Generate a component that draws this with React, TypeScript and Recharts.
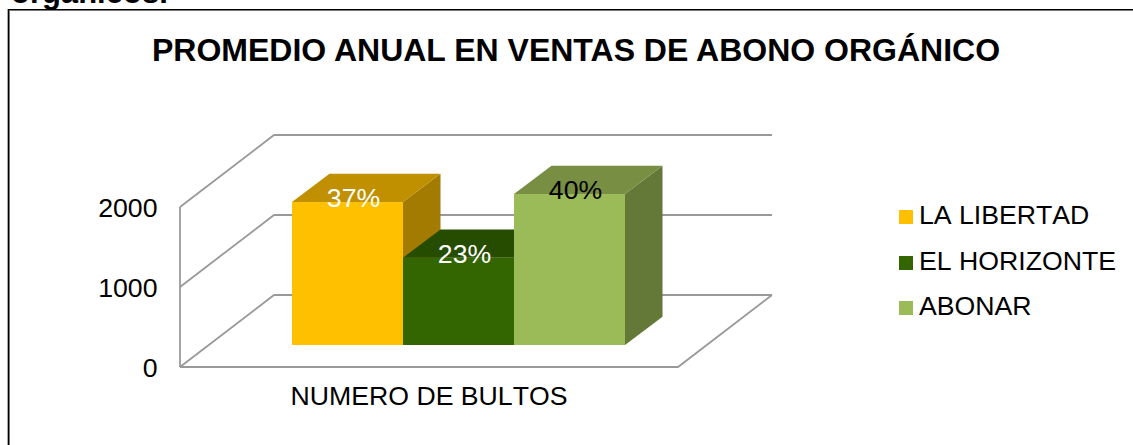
import { BarChart, Bar, XAxis, YAxis, CartesianGrid, LabelList, Legend } from "recharts";

const category = "NUMERO DE BULTOS";
const seriesNames = ["LA LIBERTAD", "EL HORIZONTE", "ABONAR"];
const seriesValues = [1787, 1091, 1887];
const seriesLabels = ["37%", "23%", "40%"];
const yTicks = [0, 1000, 2000];

const frontColors = ["#FFC000", "#336600", "#9BBB59"];
const topColors = ["#C09000", "#264C00", "#778E43"];
const sideColors = ["#A37B00", "#204000", "#647838"];
const labelColors = ["#FFFFFF", "#FFFFFF", "#000000"];

const FONT = "Arial, 'Liberation Sans', sans-serif";
const FONT_SIZE = 26.67;
const GRID = "#999999";

// depth of a bar box
const BAR_DX = 37.5;
const BAR_DY = 28.3;
// the bars stand inside the floor, the axis plane is in front of them
const AXIS_DX = 29.5;
const AXIS_DY = 22;
// depth of the walls, measured from the axis plane
const WALL_DX = 94;
const WALL_DY = 72;

const row: Record<string, string | number> = { name: category };
seriesNames.forEach((s, i) => {
  row[s] = seriesValues[i];
});
const chartData = [row];

function Box3D(props: any) {
  const { x, y, width, height, index } = props;
  const i: number = props.seriesIndex ?? index;
  const r = x + width;
  const b = y + height;
  return (
    <g>
      <polygon
        points={`${r},${y} ${r + BAR_DX},${y - BAR_DY} ${r + BAR_DX},${b - BAR_DY} ${r},${b}`}
        fill={sideColors[i]}
      />
      <polygon
        points={`${x},${y} ${x + BAR_DX},${y - BAR_DY} ${r + BAR_DX},${y - BAR_DY} ${r},${y}`}
        fill={topColors[i]}
      />
      <rect x={x} y={y} width={width} height={height} fill={frontColors[i]} />
    </g>
  );
}

function BarLabel(props: any) {
  const { x, y, width, value, seriesIndex } = props;
  return (
    <text
      x={x + width / 2 + 6}
      y={y - 4}
      textAnchor="middle"
      dominantBaseline="central"
      fontSize={FONT_SIZE}
      fontFamily={FONT}
      fill={labelColors[seriesIndex]}
    >
      {value}
    </text>
  );
}

// Walls and floor, one bent line per y tick
function WallLine(props: any) {
  const { x, y, width, height, y1 } = props;
  const left = x - AXIS_DX;
  const right = x + width - AXIS_DX;
  const yf = y1 + AXIS_DY;
  const isFloor = Math.abs(y1 - (y + height)) < 0.5;
  const line = `M${left},${yf} L${left + WALL_DX},${yf - WALL_DY} L${right + WALL_DX},${yf - WALL_DY}`;
  return (
    <g fill="none" stroke={GRID} strokeWidth={1.8}>
      <path d={line} />
      {isFloor && (
        <>
          <path d={`M${left},${yf} L${right},${yf} L${right + WALL_DX},${yf - WALL_DY}`} />
          <path d={`M${left},${y + AXIS_DY} L${left},${yf}`} />
        </>
      )}
    </g>
  );
}

function YTick(props: any) {
  const { x, y, payload } = props;
  return (
    <text
      x={x - 44}
      y={y + AXIS_DY + 1}
      textAnchor="end"
      dominantBaseline="central"
      fontSize={FONT_SIZE}
      fontFamily={FONT}
      fill="#000"
    >
      {payload.value}
    </text>
  );
}

function XTick(props: any) {
  const { x, y, payload } = props;
  return (
    <text
      x={x - AXIS_DX}
      y={y + 52}
      textAnchor="middle"
      fontSize={FONT_SIZE}
      fontFamily={FONT}
      fill="#000"
      style={{ fontKerning: "none" }}
    >
      {payload.value}
    </text>
  );
}

function LegendBox(props: any) {
  const items = [...(props.payload ?? [])].sort(
    (a: any, b: any) => seriesNames.indexOf(a.value) - seriesNames.indexOf(b.value)
  );
  return (
    <div style={{ position: "absolute", left: 899, top: 193, width: 230 }}>
      {items.map((item: any) => (
        <div
          key={item.value}
          style={{
            height: 45.5,
            lineHeight: "45.5px",
            fontFamily: FONT,
            fontSize: FONT_SIZE,
            fontKerning: "none",
            color: "#000",
            whiteSpace: "nowrap",
          }}
        >
          <span
            style={{
              display: "inline-block",
              width: 14,
              height: 14,
              marginRight: 6,
              background: item.color,
            }}
          />
          {item.value}
        </div>
      ))}
    </div>
  );
}

export default function App() {
  return (
    <div
      style={{
        position: "absolute",
        left: 0,
        top: 0,
        width: 1133,
        height: 445,
        overflow: "hidden",
        background: "#fff",
      }}
    >
      <div
        style={{
          position: "absolute",
          left: 11,
          top: -27,
          fontFamily: FONT,
          fontWeight: "bold",
          fontSize: 31,
          lineHeight: "40px",
          color: "#000",
        }}
      >
        orgánicos.
      </div>
      <div
        style={{
          position: "absolute",
          left: 8,
          top: 9,
          width: 1140,
          height: 460,
          border: "1px solid #000",
          boxShadow: "inset 1px 1px 0 #777, -1px 0 0 #aaa",
          boxSizing: "border-box",
        }}
      />
      <div
        style={{
          position: "absolute",
          left: 0,
          width: 1152,
          top: 30,
          textAlign: "center",
          fontFamily: FONT,
          fontWeight: "bold",
          fontSize: 32,
          lineHeight: "40px",
          color: "#000",
        }}
      >
        PROMEDIO ANUAL EN VENTAS DE ABONO ORGÁNICO
      </div>
      <div style={{ position: "absolute", left: 0, top: 0 }}>
        <BarChart
          width={1133}
          height={445}
          data={chartData}
          margin={{ top: 185, right: 425.5, bottom: 40, left: 0 }}
          barGap={0}
          barCategoryGap={82.5}
        >
          <CartesianGrid vertical={false} horizontal={WallLine as any} />
          <XAxis
            dataKey="name"
            height={60}
            axisLine={false}
            tickLine={false}
            tick={XTick as any}
          />
          <YAxis
            width={209.5}
            domain={[0, 2000]}
            ticks={yTicks}
            axisLine={false}
            tickLine={false}
            tick={YTick as any}
          />
          <Legend
            layout="vertical"
            align="center"
            verticalAlign="middle"
            wrapperStyle={{ left: 0, top: 0, width: 1133, height: 445 }}
            content={LegendBox as any}
          />
          {seriesNames.map((name, i) => (
            <Bar
              key={name}
              dataKey={name}
              fill={frontColors[i]}
              isAnimationActive={false}
              shape={(p: any) => <Box3D {...p} seriesIndex={i} />}
            >
              <LabelList
                dataKey={() => seriesLabels[i]}
                content={(p: any) => <BarLabel {...p} seriesIndex={i} />}
              />
            </Bar>
          ))}
        </BarChart>
      </div>
    </div>
  );
}
